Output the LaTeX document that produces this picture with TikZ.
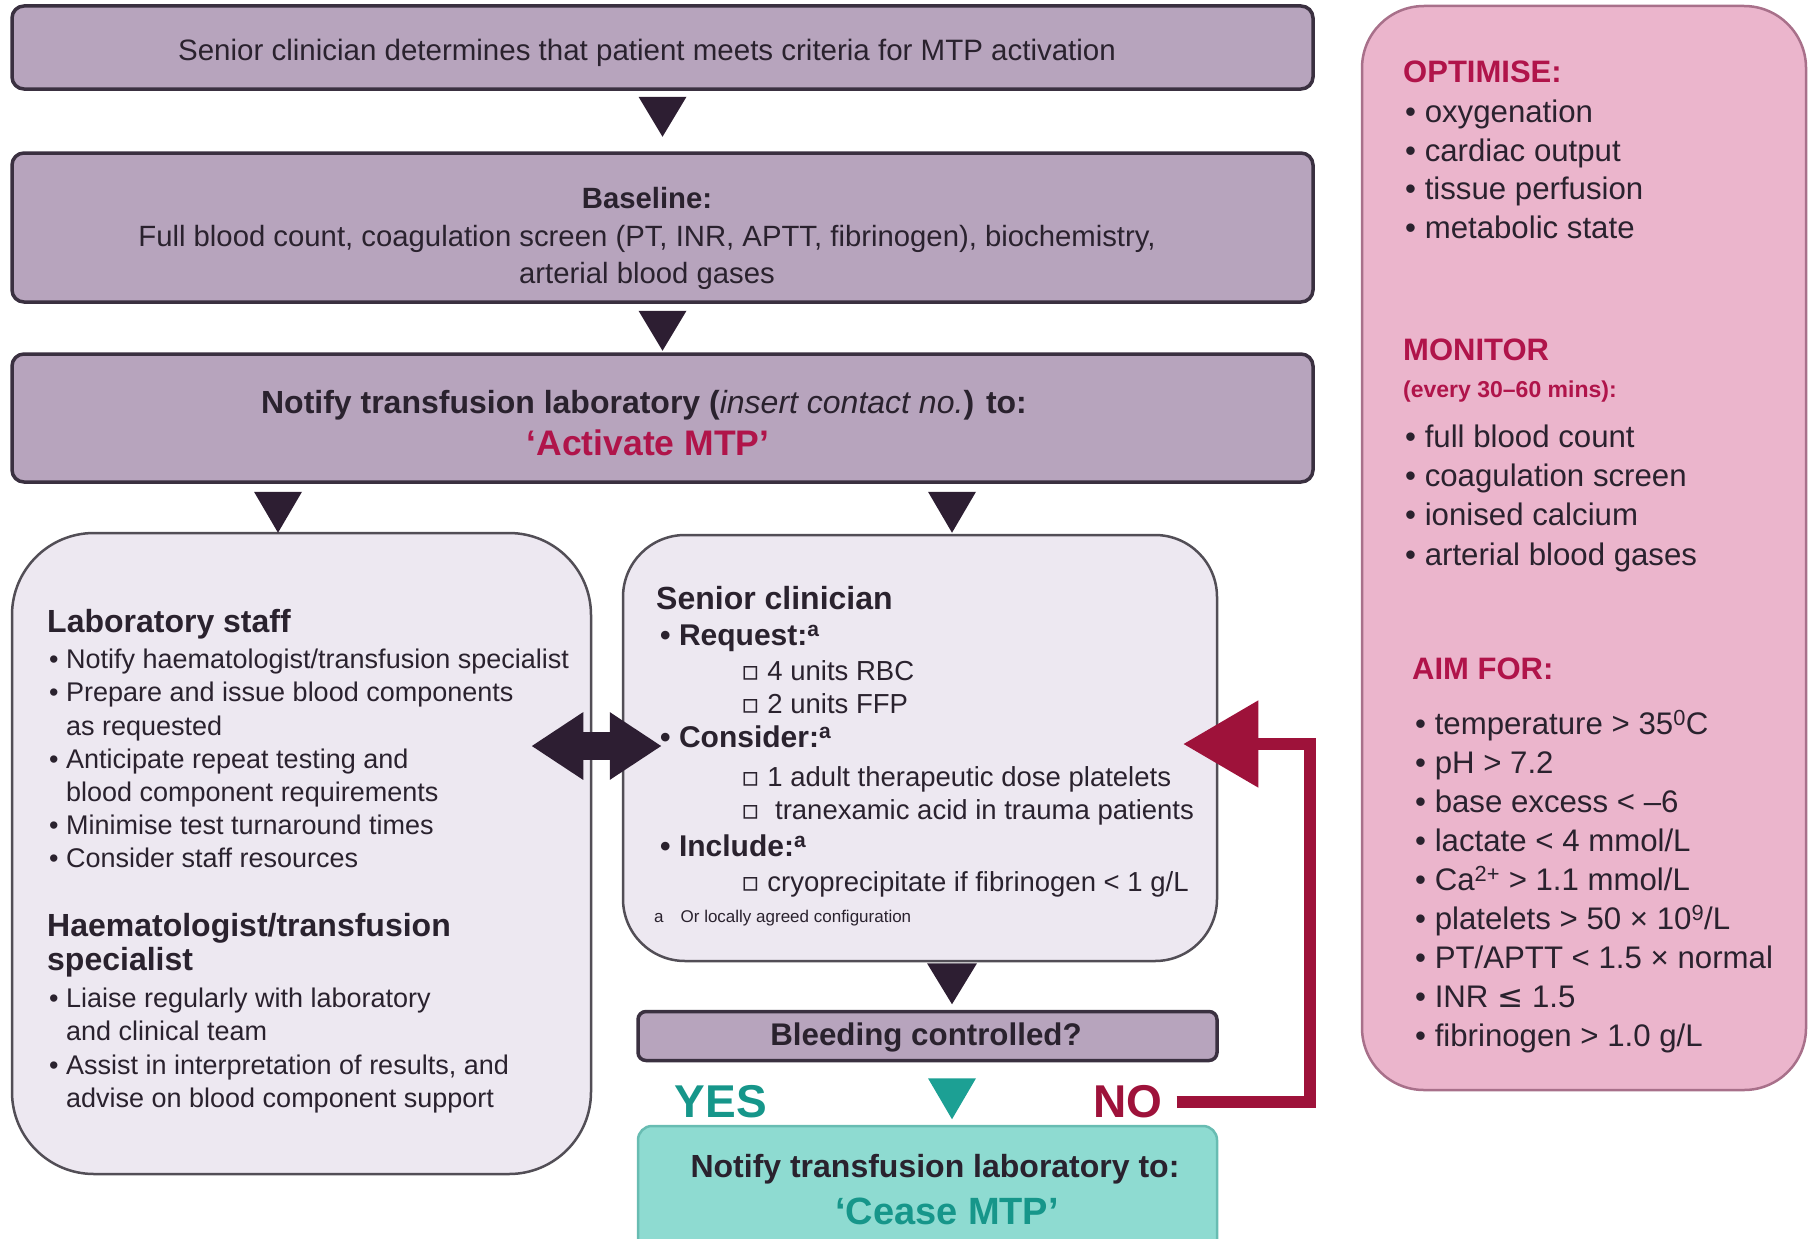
\documentclass[tikz,border=0pt]{standalone}
\usepackage{fontspec}
\setmainfont{Liberation Sans}
\newfontfamily\symfont{DejaVu Sans}
\usetikzlibrary{arrows.meta,calc}

\definecolor{mauve}{RGB}{183,164,189}
\definecolor{mauveline}{RGB}{58,48,64}
\definecolor{lav}{RGB}{237,232,241}
\definecolor{lavline}{RGB}{82,78,86}
\definecolor{pinkfill}{RGB}{235,181,204}
\definecolor{pinkline}{RGB}{168,112,138}
\definecolor{crimson}{RGB}{176,20,74}
\definecolor{inkc}{RGB}{42,34,46}
\definecolor{tealfill}{RGB}{142,219,209}
\definecolor{tealline}{RGB}{104,188,178}
\definecolor{tealtxt}{RGB}{22,150,138}
\definecolor{tealtri}{RGB}{28,160,148}
\definecolor{noRed}{RGB}{158,18,58}
\definecolor{triDark}{RGB}{45,30,50}

\newcommand\ind{\hphantom{\textbullet\ }}
\newcommand\sq{{\symfont ▫}}
\newcommand\downtri[4]{\fill[#1] ($(#2)+(-#3,0)$) -- ($(#2)+(#3,0)$) -- ($(#2)+(0,#4)$) -- cycle;}

\begin{document}
\begin{tikzpicture}[x=1pt,y=-1pt,
  bar/.style={draw=mauveline, line width=3.5pt, fill=mauve, rounded corners=12pt, inner sep=0pt},
  panel/.style={draw=lavline, line width=2.5pt, fill=lav, inner sep=0pt},
  txt/.style={anchor=north west, inner sep=0pt, align=left, text=inkc},
  ctxt/.style={inner sep=0pt, align=center, text=inkc},
  head/.style={txt, font=\bfseries\fontsize{32}{34}\selectfont},
  redhead/.style={txt, text=crimson, font=\bfseries\fontsize{31}{34}\selectfont},
  item/.style={txt, font=\fontsize{27}{33.2}\selectfont},
  subitem/.style={txt, font=\fontsize{27.5}{33}\selectfont},
  pitem/.style={txt, font=\fontsize{31.2}{39}\selectfont},
]
\useasboundingbox (0,0) rectangle (1809,1239);
\clip (0,0) rectangle (1809,1239);

% main boxes
\node[bar, minimum width=1301pt, minimum height=83pt] (start) at (662.5,47.5) {};
\node[bar, minimum width=1301pt, minimum height=149pt] (base) at (662.5,227.5) {};
\node[bar, minimum width=1301pt, minimum height=128pt] (notify) at (662.5,418) {};
\node[panel, rounded corners=82pt, minimum width=579pt, minimum height=641pt] (lab) at (301.5,853.5) {};
\node[panel, rounded corners=62pt, minimum width=594pt, minimum height=426pt] (senior) at (920,748) {};
\node[bar, rounded corners=8pt, minimum width=579pt, minimum height=49pt] (bleed) at (927.5,1036) {};
\node[draw=tealline, line width=2.5pt, fill=tealfill, rounded corners=14pt, inner sep=0pt,
      minimum width=579pt, minimum height=130pt] (cease) at (927.5,1191) {};
\node[draw=pinkline, line width=2.5pt, fill=pinkfill, rounded corners=62pt, inner sep=0pt,
      minimum width=444pt, minimum height=1084pt] (pinkpanel) at (1584,548) {};

% texts of the main column
\node[ctxt, font=\fontsize{29.5}{35}\selectfont] (starttxt) at (647,53)
  {Senior clinician determines that patient meets criteria for MTP activation};
\node[ctxt, font=\fontsize{29.3}{37.5}\selectfont] (basetxt) at (647,238.5)
  {\textbf{Baseline:}\\Full blood count, coagulation screen (PT, INR, APTT, fibrinogen), biochemistry,\\arterial blood gases};
\node[ctxt, font=\bfseries\fontsize{32}{38}\selectfont] (notifytxt) at (644,405.5)
  {Notify transfusion laboratory ({\mdseries\itshape insert contact no.}) to:};
\node[ctxt, font=\bfseries\fontsize{35.5}{40}\selectfont, text=crimson] (activate) at (648,443) {‘Activate MTP’};
\node[ctxt, font=\bfseries\fontsize{31.3}{36}\selectfont] (bleedtxt) at (926,1037) {Bleeding controlled?};
\node[ctxt, font=\bfseries\fontsize{32}{38}\selectfont] (ceasetxt) at (935,1169) {Notify transfusion laboratory to:};
\node[ctxt, font=\bfseries\fontsize{38}{42}\selectfont, text=tealtxt] (ceasemtp) at (947,1211) {‘Cease MTP’};
\node[ctxt, font=\bfseries\fontsize{46}{50}\selectfont, text=tealtxt] (yes) at (721,1102) {YES};
\node[ctxt, font=\bfseries\fontsize{46}{50}\selectfont, text=noRed] (no) at (1128,1102) {NO};

% laboratory panel
\node[head] (labhead) at (47,609) {Laboratory staff};
\node[item] (labitems) at (49,649) {\textbullet\ Notify haematologist/transfusion specialist\\
  \textbullet\ Prepare and issue blood components\\\ind as requested\\
  \textbullet\ Anticipate repeat testing and\\\ind blood component requirements\\
  \textbullet\ Minimise test turnaround times\\
  \textbullet\ Consider staff resources};
\node[head] (haemhead) at (47,913) {Haematologist/transfusion\\specialist};
\node[item] (haemitems) at (49,988) {\textbullet\ Liaise regularly with laboratory\\\ind and clinical team\\
  \textbullet\ Assist in interpretation of results, and\\\ind advise on blood component support};

% senior clinician panel
\node[head] (snhead) at (656,586) {Senior clinician};
\node[txt, font=\bfseries\fontsize{30}{33}\selectfont] (sreq) at (660,625) {\textbullet\ Request:\textsuperscript{a}};
\node[subitem] (sreqlist) at (741,660) {\sq\ 4 units RBC\\\sq\ 2 units FFP};
\node[txt, font=\bfseries\fontsize{30}{33}\selectfont] (scons) at (660,726) {\textbullet\ Consider:\textsuperscript{a}};
\node[subitem] (sconslist) at (741,766)
  {\sq\ 1 adult therapeutic dose platelets\\\sq\ \ tranexamic acid in trauma patients};
\node[txt, font=\bfseries\fontsize{30}{33}\selectfont] (sinc) at (660,835) {\textbullet\ Include:\textsuperscript{a}};
\node[subitem] (sinclist) at (741,871) {\sq\ cryoprecipitate if fibrinogen < 1 g/L};
\node[txt, font=\fontsize{17}{19}\selectfont] (sfoot) at (654,910) {a\quad Or locally agreed configuration};

% goals panel
\node[redhead] (opthead) at (1403,60.5) {OPTIMISE:};
\node[pitem, font=\fontsize{31.2}{38.7}\selectfont] (optlist) at (1405,99.5)
  {\textbullet\ oxygenation\\\textbullet\ cardiac output\\\textbullet\ tissue perfusion\\\textbullet\ metabolic state};
\node[redhead] (monhead) at (1403,338.5) {MONITOR};
\node[txt, text=crimson, font=\bfseries\fontsize{23}{26}\selectfont] (monfreq) at (1403,380.5) {(every 30–60 mins):};
\node[pitem, font=\fontsize{31.2}{39.3}\selectfont] (monlist) at (1405,424.5)
  {\textbullet\ full blood count\\\textbullet\ coagulation screen\\\textbullet\ ionised calcium\\\textbullet\ arterial blood gases};
\node[redhead] (aimhead) at (1412,657.5) {AIM FOR:};
\node[pitem] (aimlist) at (1415,710)
  {\textbullet\ temperature > 35\textsuperscript{0}C\\
   \textbullet\ pH > 7.2\\
   \textbullet\ base excess < –6\\
   \textbullet\ lactate < 4 mmol/L\\
   \textbullet\ Ca\textsuperscript{2+} > 1.1 mmol/L\\
   \textbullet\ platelets > 50 × 10\textsuperscript{9}/L\\
   \textbullet\ PT/APTT < 1.5 × normal\\
   \textbullet\ INR {\symfont ≤} 1.5\\
   \textbullet\ fibrinogen > 1.0 g/L};

% flow triangles
\coordinate (t1) at ($(start.south)+(0,6)$);
\coordinate (t2) at ($(base.south)+(0,7)$);
\coordinate (t3) at ($(notify.south)+(-384.5,8)$);
\coordinate (t4) at ($(notify.south)+(289.5,8)$);
\coordinate (t5) at ($(senior.south)+(32,1)$);
\coordinate (t6) at ($(bleed.south)+(24.5,16)$);
\downtri{triDark}{t1}{24}{40}
\downtri{triDark}{t2}{24}{40}
\downtri{triDark}{t3}{24}{41}
\downtri{triDark}{t4}{24}{41}
\downtri{triDark}{t5}{25}{41}
\downtri{tealtri}{t6}{24}{41}

% two-way link between the panels
\draw[triDark, line width=28pt,
      {Triangle[length=52pt,width=64pt]}-{Triangle[length=52pt,width=64pt]}]
  ($(lab.east |- senior.center)+(-61,-2)$) -- ($(senior.west)+(40,-2)$);

% loop back when bleeding continues
\coordinate (redtip) at ($(senior.east)+(-35,-4)$);
\draw[noRed, line width=12pt, -{Triangle[length=75pt,width=84pt]}]
  ($(no.east)+(14,0)$) -| ($(redtip)+(127,0)$) -- (redtip);
\end{tikzpicture}
\end{document}
